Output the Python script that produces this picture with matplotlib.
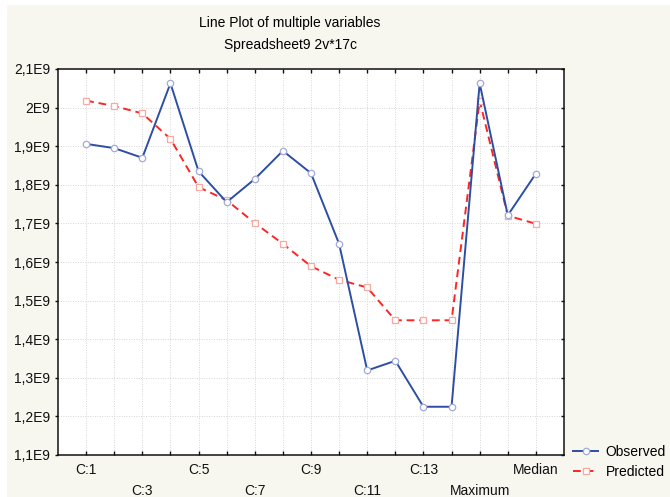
import numpy as np
import matplotlib
matplotlib.use("Agg")
import matplotlib.pyplot as plt
from matplotlib.patches import Rectangle

plt.rcParams['font.family'] = ['Liberation Sans', 'DejaVu Sans']

# Data (values in units of 1E9)
categories = ['C:1', 'C:2', 'C:3', 'C:4', 'C:5', 'C:6', 'C:7', 'C:8', 'C:9',
              'C:10', 'C:11', 'C:12', 'C:13', 'Minimum', 'Maximum', 'Mean', 'Median']
observed = [1.906, 1.895, 1.870, 2.063, 1.835, 1.755, 1.815, 1.888, 1.830,
            1.647, 1.319, 1.344, 1.225, 1.225, 2.063, 1.721, 1.829]
predicted = [2.018, 2.004, 1.985, 1.919, 1.794, 1.760, 1.701, 1.647, 1.589,
             1.554, 1.534, 1.449, 1.449, 1.449, 2.018, 1.720, 1.699]
yticks = [1.1, 1.2, 1.3, 1.4, 1.5, 1.6, 1.7, 1.8, 1.9, 2.0, 2.1]
ytick_labels = ['1,1E9', '1,2E9', '1,3E9', '1,4E9', '1,5E9', '1,6E9',
                '1,7E9', '1,8E9', '1,9E9', '2E9', '2,1E9']

scale = 1e9
x = np.arange(len(categories))
obs = np.array(observed) * scale
pred = np.array(predicted) * scale

bg = '#f7f6ef'
fig = plt.figure(figsize=(6.7, 4.97), dpi=100, facecolor=bg)
# white strips at top and left edge of the image
fig.patches.append(Rectangle((0, 0), 7 / 670, 1, transform=fig.transFigure,
                             facecolor='white', edgecolor='none'))
fig.patches.append(Rectangle((0, 1 - 5 / 497), 1, 5 / 497, transform=fig.transFigure,
                             facecolor='white', edgecolor='none'))

ax = fig.add_axes([58 / 670, 1 - 455 / 497, (564 - 58) / 670, (455 - 69) / 497])
ax.set_facecolor('white')

ax.plot(x, obs, color='#2c4ea3', lw=1.4, marker='o', ms=4.6,
        mfc='white', mec='#a3aad8', mew=0.9, label='Observed', zorder=3)
ax.plot(x, pred, color='#ff2525', lw=1.4, ls=(0, (4, 2.5)), marker='s', ms=4.4,
        mfc='white', mec='#f6aaa2', mew=0.9, label='Predicted', zorder=2)

ax.set_xlim(-1, len(categories))
ax.set_ylim(yticks[0] * scale, yticks[-1] * scale)

ax.set_yticks([v * scale for v in yticks])
ax.set_yticklabels(ytick_labels, fontsize=10)

# every other category labelled, staggered on two rows
xlabels = []
for i, c in enumerate(categories):
    if i % 2:
        xlabels.append('')
    elif (i // 2) % 2:
        xlabels.append('\n' + c)
    else:
        xlabels.append(c)
ax.set_xticks(x)
ax.set_xticklabels(xlabels, fontsize=10)
for lab in ax.get_xticklabels():
    lab.set_linespacing(1.6)

ax.grid(True, color='#d6d6d6', ls=(0, (1, 1.5)), lw=0.7)
ax.set_axisbelow(True)

for s in ax.spines.values():
    s.set_linewidth(1.1)
    s.set_color('#111111')

ax.tick_params(axis='x', which='both', direction='in', length=3, width=1,
               top=True, pad=6, colors='#111111')
ax.tick_params(axis='y', which='both', direction='out', length=2.5, width=1,
               pad=3, colors='#111111')
ax.tick_params(axis='y', right=True)
# inward ticks on the right side
for t in ax.yaxis.get_major_ticks():
    t.tick2line.set_marker(0)

fig.text(290 / 670, 1 - 23 / 497, 'Line Plot of multiple variables', fontsize=10,
         ha='center', va='center')
fig.text(290 / 670, 1 - 45 / 497, 'Spreadsheet9 2v*17c', fontsize=10,
         ha='center', va='center')

ax.legend(loc='upper left', bbox_to_anchor=(573 / 670, 1 - 445 / 497),
          bbox_transform=fig.transFigure, frameon=False, fontsize=10,
          borderpad=0, borderaxespad=0, handlelength=1.8, handletextpad=0.55,
          labelspacing=0.42)

fig.savefig('out.png', dpi=100, facecolor=bg)
